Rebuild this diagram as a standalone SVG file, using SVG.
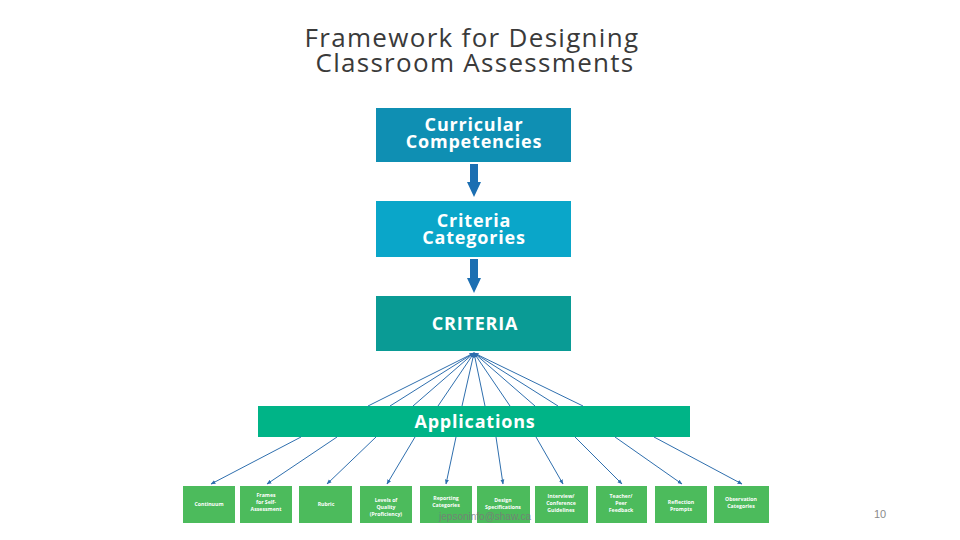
<svg xmlns="http://www.w3.org/2000/svg" width="960" height="540" viewBox="0 0 960 540">
<defs>
<style>
.title{font-family:"Open Sans","Liberation Sans",sans-serif;font-size:26px;letter-spacing:1.3px;fill:#3a3a3a;text-anchor:middle}
.bt{font-family:"Open Sans","Liberation Sans",sans-serif;font-weight:bold;fill:#fff;text-anchor:middle}
.big{font-size:18px;letter-spacing:0.8px}
.sm{font-size:5.2px}
.fan{stroke:#2f6fae;stroke-width:1;fill:none}
.thick{fill:#1c6fb2}
.g{fill:#4cbb5c}
</style>
<marker id="ah" viewBox="0 0 10 10" refX="9" refY="5" markerWidth="5" markerHeight="5" orient="auto"><path d="M0,1 L10,5 L0,9 z" fill="#2f6fae"/></marker>
</defs>
<rect width="960" height="540" fill="#fff"/>
<text class="title" x="472" y="47">Framework for Designing</text>
<text class="title" x="475" y="72">Classroom Assessments</text>

<g id="n-curricular"><rect x="376" y="108" width="195" height="54" fill="#0f8fb3"/><text class="bt big" x="474" y="131">Curricular</text><text class="bt big" x="474" y="148">Competencies</text></g>
<g id="n-categories"><rect x="376" y="201" width="195" height="56" fill="#0aa6c9"/><text class="bt big" x="474" y="227">Criteria</text><text class="bt big" x="474" y="244">Categories</text></g>
<g id="n-criteria"><rect x="376" y="296" width="195" height="55" fill="#0a9b95"/><text class="bt big" x="475" y="330">CRITERIA</text></g>
<g id="n-applications"><rect x="258" y="406" width="432" height="31" fill="#00b487"/><text class="bt big" x="475" y="428">Applications</text></g>

<g id="n-b1"><rect class="g" x="183" y="486" width="52" height="37"/><text class="bt sm" x="209" y="506">Continuum</text></g>
<g id="n-b2"><rect class="g" x="240" y="486" width="52" height="37"/><text class="bt sm" x="266" y="497">Frames</text><text class="bt sm" x="266" y="504">for Self-</text><text class="bt sm" x="266" y="511">Assessment</text></g>
<g id="n-b3"><rect class="g" x="299" y="486" width="53" height="37"/><text class="bt sm" x="326" y="506">Rubric</text></g>
<g id="n-b4"><rect class="g" x="360" y="486" width="52" height="37"/><text class="bt sm" x="386" y="502">Levels of</text><text class="bt sm" x="386" y="509">Quality</text><text class="bt sm" x="386" y="516">(Proficiency)</text></g>
<g id="n-b5"><rect class="g" x="420" y="486" width="52" height="37"/><text class="bt sm" x="446" y="500">Reporting</text><text class="bt sm" x="446" y="507">Categories</text></g>
<g id="n-b6"><rect class="g" x="477" y="486" width="53" height="37"/><text class="bt sm" x="503" y="502">Design</text><text class="bt sm" x="503" y="509">Specifications</text></g>
<g id="n-b7"><rect class="g" x="535" y="486" width="53" height="37"/><text class="bt sm" x="561" y="498">Interview/</text><text class="bt sm" x="561" y="505">Conference</text><text class="bt sm" x="561" y="512">Guidelines</text></g>
<g id="n-b8"><rect class="g" x="596" y="486" width="51" height="37"/><text class="bt sm" x="621" y="498">Teacher/</text><text class="bt sm" x="621" y="505">Peer</text><text class="bt sm" x="621" y="512">Feedback</text></g>
<g id="n-b9"><rect class="g" x="655" y="486" width="52" height="37"/><text class="bt sm" x="681" y="504">Reflection</text><text class="bt sm" x="681" y="511">Prompts</text></g>
<g id="n-b10"><rect class="g" x="714" y="486" width="55" height="37"/><text class="bt sm" x="741" y="501">Observation</text><text class="bt sm" x="741" y="508">Categories</text></g>

<g id="connectors">
<path class="thick" d="M470,164 H478 V182 H481 L474,197 L467,182 H470 Z"/>
<path class="thick" d="M470,259 H478 V278 H481 L474,293 L467,278 H470 Z"/>
<g class="fan" marker-end="url(#ah)">
<line x1="368" y1="406" x2="474" y2="353"/>
<line x1="390" y1="406" x2="474" y2="353"/>
<line x1="413" y1="406" x2="474" y2="353"/>
<line x1="438" y1="406" x2="474" y2="353"/>
<line x1="462" y1="406" x2="474" y2="353"/>
<line x1="485" y1="406" x2="474" y2="353"/>
<line x1="510" y1="406" x2="474" y2="353"/>
<line x1="535" y1="406" x2="474" y2="353"/>
<line x1="558" y1="406" x2="474" y2="353"/>
<line x1="583" y1="406" x2="474" y2="353"/>
</g>
<g class="fan" marker-end="url(#ah)">
<line x1="301" y1="437" x2="211" y2="484"/>
<line x1="337" y1="437" x2="267" y2="484"/>
<line x1="376" y1="437" x2="327" y2="484"/>
<line x1="415" y1="437" x2="387" y2="484"/>
<line x1="456" y1="437" x2="446" y2="484"/>
<line x1="496" y1="437" x2="503" y2="484"/>
<line x1="536" y1="437" x2="563" y2="484"/>
<line x1="575" y1="437" x2="622" y2="484"/>
<line x1="615" y1="437" x2="682" y2="484"/>
<line x1="654" y1="437" x2="742" y2="484"/>
</g>
</g>

<text x="485" y="520" font-family="Liberation Sans,sans-serif" font-size="10" fill="#7a7a7a" fill-opacity="0.85" text-anchor="middle">jepsoninfo@shaw.ca</text>
<text x="880" y="518" font-family="Liberation Sans,sans-serif" font-size="11" fill="#8a8a8a" text-anchor="middle">10</text>
</svg>
